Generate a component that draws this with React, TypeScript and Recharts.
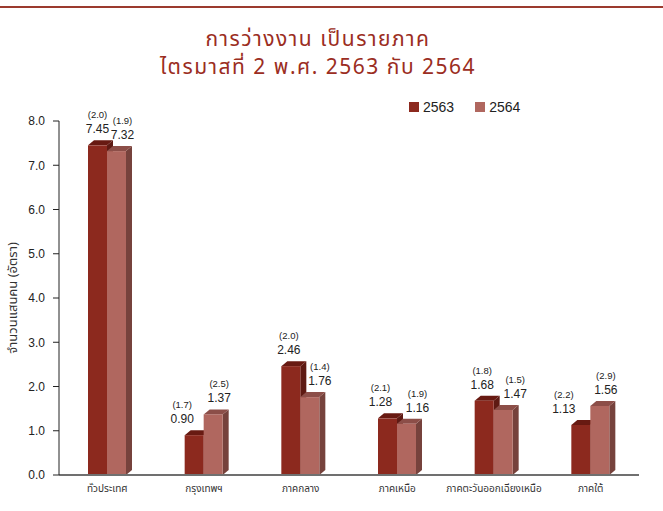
import { BarChart, Bar, XAxis, YAxis, LabelList } from 'recharts';

const categories = ['ทั่วประเทศ', 'กรุงเทพฯ', 'ภาคกลาง', 'ภาคเหนือ', 'ภาคตะวันออกเฉียงเหนือ', 'ภาคใต้'];
const values2563 = [7.45, 0.9, 2.46, 1.28, 1.68, 1.13];
const values2564 = [7.32, 1.37, 1.76, 1.16, 1.47, 1.56];
const rates2563 = [2.0, 1.7, 2.0, 2.1, 1.8, 2.2];
const rates2564 = [1.9, 2.5, 1.4, 1.9, 1.5, 2.9];
const yTicks = [0, 1, 2, 3, 4, 5, 6, 7, 8];
const titleLines = ['การว่างงาน เป็นรายภาค', 'ไตรมาสที่ 2 พ.ศ. 2563 กับ 2564'];

const data = categories.map((name, i) => ({
  name,
  y2563: values2563[i],
  y2564: values2564[i],
}));

const TITLE_COLOR = '#9b2d22';
const FONT = "'Liberation Sans', Arial, sans-serif";
const THAI_FONT = "'Noto Sans Thai', 'Noto Sans', 'Liberation Sans', sans-serif";

const COLORS = {
  y2563: { front: '#8c291e', top: '#681a12', side: '#5e1a13' },
  y2564: { front: '#b0675f', top: '#8c4e48', side: '#76423c' },
};

// hand-nudged label positions, like the original (x shift from bar centre)
const labelShift2563 = [0, -12, -2, -7, -2, -17];
const labelShift2564 = [6, 6, 10, 11, 12, 6];

function Box3D(props: any) {
  const { x, y, width, height, colors } = props;
  if (!height || height <= 0) return null;
  const dx = 6;
  const dy = 5;
  return (
    <g>
      <polygon
        points={`${x + width},${y} ${x + width + dx},${y - dy} ${x + width + dx},${y + height - dy} ${x + width},${y + height}`}
        fill={colors.side}
      />
      <polygon
        points={`${x},${y} ${x + dx},${y - dy} ${x + width + dx},${y - dy} ${x + width},${y}`}
        fill={colors.top}
      />
      <rect x={x} y={y} width={width} height={height} fill={colors.front} />
    </g>
  );
}

function makeLabel(rates: number[], shifts: number[]) {
  return (props: any) => {
    const { x, y, width, value, index } = props;
    const cx = x + width / 2 + shifts[index];
    return (
      <g fontFamily={FONT} fill="#222" textAnchor="middle">
        <text x={cx} y={y - 27} fontSize={9.5}>
          ({rates[index].toFixed(1)})
        </text>
        <text x={cx} y={y - 12} fontSize={12}>
          {Number(value).toFixed(2)}
        </text>
      </g>
    );
  };
}

function LegendBox() {
  const items = [
    { label: '2563', color: COLORS.y2563.front },
    { label: '2564', color: COLORS.y2564.front },
  ];
  return (
    <div style={{ position: 'absolute', left: 409, top: 99, display: 'flex', fontFamily: FONT, fontSize: 14, color: '#222' }}>
      {items.map((it) => (
        <div key={it.label} style={{ display: 'flex', alignItems: 'center', marginRight: 21 }}>
          <span style={{ width: 10, height: 10, background: it.color, display: 'inline-block', marginRight: 4 }} />
          <span>{it.label}</span>
        </div>
      ))}
    </div>
  );
}

export default function App() {
  return (
    <div style={{ position: 'relative', width: 663, height: 511, background: '#fff', overflow: 'hidden' }}>
      <style>{'body{margin:0}'}</style>
      <div style={{ position: 'absolute', left: 0, top: 6, width: 663, height: 2, background: '#9b3a2e' }} />
      <svg width={663} height={90} style={{ position: 'absolute', left: 0, top: 0 }}>
        {titleLines.map((t, i) => (
          <text
            key={t}
            x={318}
            y={46 + i * 28}
            textAnchor="middle"
            fontFamily={THAI_FONT}
            fontSize={21}
            letterSpacing={1.5}
            fill={TITLE_COLOR}
          >
            {t}
          </text>
        ))}
      </svg>
      <LegendBox />
      <div style={{ position: 'absolute', left: 0, top: 0 }}>
        <BarChart
          width={663}
          height={511}
          data={data}
          margin={{ top: 121, right: 24, bottom: 6, left: 0 }}
          barGap={0}
          barSize={19}
        >
          <XAxis
            dataKey="name"
            axisLine={{ stroke: '#707070', strokeWidth: 2 }}
            tickLine={false}
            tickSize={6}
            tickMargin={4}
            height={30}
            interval={0}
            tick={{ fontSize: 10, fill: '#333', fontFamily: THAI_FONT }}
          />
          <YAxis
            domain={[0, 8]}
            ticks={yTicks}
            width={59}
            tickSize={6}
            tickMargin={8}
            axisLine={{ stroke: '#222' }}
            tickLine={{ stroke: '#222' }}
            tickFormatter={(v: number) => v.toFixed(1)}
            tick={{ fontSize: 12, fill: '#222', fontFamily: FONT }}
            label={{
              value: 'จำนวนแสนคน (อัตรา)',
              angle: -90,
              position: 'insideLeft',
              offset: 12,
              style: { textAnchor: 'middle', fontSize: 13, fill: '#333', fontFamily: THAI_FONT },
            }}
          />
          <Bar
            dataKey="y2563"
            name="2563"
            fill={COLORS.y2563.front}
            isAnimationActive={false}
            shape={(p: any) => <Box3D {...p} colors={COLORS.y2563} />}
          >
            <LabelList dataKey="y2563" content={makeLabel(rates2563, labelShift2563)} />
          </Bar>
          <Bar
            dataKey="y2564"
            name="2564"
            fill={COLORS.y2564.front}
            isAnimationActive={false}
            shape={(p: any) => <Box3D {...p} colors={COLORS.y2564} />}
          >
            <LabelList dataKey="y2564" content={makeLabel(rates2564, labelShift2564)} />
          </Bar>
        </BarChart>
      </div>
    </div>
  );
}
